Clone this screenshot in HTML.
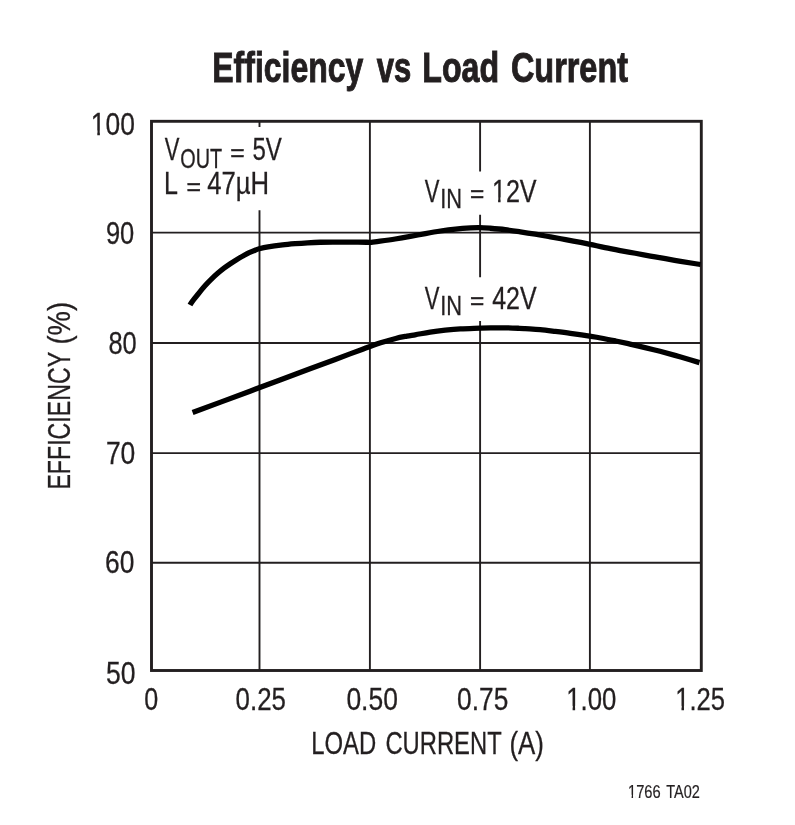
<!DOCTYPE html>
<html lang="en">
<head>
<meta charset="utf-8">
<title>Efficiency vs Load Current</title>
<style>
html,body{margin:0;padding:0;background:#fff;}
svg{display:block;}
text{font-family:"Liberation Sans", sans-serif;fill:#231f20;stroke:#231f20;stroke-linejoin:miter;}
.b{font-weight:bold;}
</style>
</head>
<body>
<svg width="795" height="825" viewBox="0 0 795 825">
<rect width="795" height="825" fill="#fff"/>
<g stroke="#231f20" stroke-width="1.90" fill="none">
<line x1="151.5" y1="232.6" x2="701.3" y2="232.6"/>
<line x1="151.5" y1="343.0" x2="701.3" y2="343.0"/>
<line x1="151.5" y1="453.1" x2="701.3" y2="453.1"/>
<line x1="151.5" y1="562.8" x2="701.3" y2="562.8"/>
<line x1="369.9" y1="121.3" x2="369.9" y2="670.5"/>
<line x1="589.9" y1="121.3" x2="589.9" y2="670.5"/>
<path d="M259.5 121.3V127M259.5 210.2V670.5"/>
<path d="M480.1 121.3V171.6M480.1 214.7V277.3M480.1 321V670.5"/>
</g>
<rect x="151.5" y="121.3" width="549.8" height="549.2" fill="none" stroke="#231f20" stroke-width="2.90"/>
<g stroke="#000" stroke-width="5.30" fill="none" stroke-linecap="butt" stroke-linejoin="round">
<path d="M190.00 305.00C192.30 300.63 195.86 297.05 198.90 293.16C200.93 290.57 203.01 288.02 205.20 285.56C207.18 283.34 209.27 281.21 211.40 279.13C213.44 277.13 215.54 275.19 217.70 273.32C219.75 271.54 221.84 269.81 224.00 268.16C226.05 266.60 228.17 265.14 230.30 263.70C232.37 262.30 234.47 260.95 236.60 259.64C238.67 258.38 240.78 257.16 242.90 255.99C244.98 254.84 247.05 253.68 249.20 252.67C251.26 251.70 253.38 250.87 255.50 250.03C256.72 249.54 257.93 249.02 259.20 248.70C262.14 247.95 265.11 247.31 268.10 246.83C272.91 246.04 277.76 245.44 282.60 244.88C286.79 244.40 291.00 244.05 295.20 243.70C299.36 243.36 303.53 243.07 307.70 242.83C311.90 242.58 316.10 242.37 320.30 242.25C324.50 242.12 328.70 242.09 332.90 242.07C337.10 242.06 341.30 242.13 345.50 242.15C349.67 242.17 353.83 242.17 358.00 242.20C362.10 242.22 366.20 242.27 370.30 242.31C373.57 241.92 376.84 241.55 380.10 241.12C385.14 240.45 390.18 239.78 395.20 239.00C400.24 238.22 405.28 237.34 410.30 236.44C415.34 235.53 420.36 234.48 425.40 233.57C430.42 232.66 435.45 231.76 440.50 231.00C445.52 230.25 450.55 229.57 455.60 229.04C460.62 228.51 465.66 228.14 470.70 227.83C473.70 227.65 476.70 227.52 479.70 227.58C483.17 227.66 486.64 227.96 490.10 228.25C495.14 228.67 500.18 229.11 505.20 229.70C510.25 230.29 515.27 231.05 520.30 231.80C525.34 232.55 530.37 233.35 535.40 234.20C540.44 235.05 545.47 236.00 550.50 236.90C555.53 237.80 560.57 238.68 565.60 239.60C570.64 240.52 575.67 241.43 580.70 242.40C583.81 243.00 586.91 243.63 590.00 244.30C595.04 245.39 600.05 246.62 605.10 247.67C610.12 248.72 615.16 249.66 620.20 250.59C625.23 251.52 630.27 252.35 635.30 253.26C640.34 254.18 645.36 255.16 650.40 256.07C655.43 256.97 660.47 257.83 665.50 258.71C670.53 259.60 675.56 260.51 680.60 261.35C685.63 262.19 690.67 262.96 695.70 263.75C697.30 264.01 698.90 264.25 700.50 264.50"/>
<path d="M192.60 412.60C211.73 405.46 230.87 398.33 250.00 391.19C270.00 383.73 290.00 376.27 310.00 368.81C323.33 363.84 336.67 358.87 350.00 353.89C354.00 352.40 357.99 350.88 362.00 349.40C364.66 348.42 367.33 347.45 370.00 346.50C373.53 345.24 377.02 343.87 380.60 342.75C385.59 341.19 390.62 339.72 395.70 338.45C399.43 337.52 403.22 336.86 407.00 336.15C409.69 335.64 412.40 335.27 415.10 334.80C420.14 333.92 425.15 332.87 430.20 332.10C435.22 331.34 440.26 330.73 445.30 330.20C450.32 329.67 455.36 329.19 460.40 328.90C466.93 328.52 473.47 328.42 480.00 328.20C483.53 328.08 487.07 327.95 490.60 327.90C495.63 327.83 500.67 327.78 505.70 327.85C510.20 327.91 514.70 328.11 519.20 328.30C521.17 328.38 523.13 328.52 525.10 328.65C530.13 328.97 535.18 329.19 540.20 329.65C545.25 330.11 550.27 330.78 555.30 331.40C560.34 332.02 565.37 332.64 570.40 333.35C576.77 334.24 583.14 335.22 589.50 336.20C593.20 336.77 596.91 337.32 600.60 338.00C605.65 338.92 610.67 339.96 615.70 341.00C620.47 341.98 625.24 343.00 630.00 344.06C635.01 345.18 640.01 346.34 645.00 347.55C650.01 348.76 655.01 350.01 660.00 351.31C665.01 352.62 670.01 353.97 675.00 355.36C680.01 356.77 685.01 358.23 690.00 359.70C693.17 360.64 696.33 361.63 699.50 362.60"/>
</g>
<text class="b" font-size="43.30" stroke-width="1.00" transform="translate(212.27 81.80) scale(0.7385 1)">Efficiency</text>
<text class="b" font-size="43.30" stroke-width="1.00" transform="translate(376.76 81.80) scale(0.7172 1)">vs</text>
<text class="b" font-size="43.30" stroke-width="1.00" transform="translate(422.26 81.80) scale(0.7438 1)">Load</text>
<text class="b" font-size="43.30" stroke-width="1.00" transform="translate(510.96 81.80) scale(0.7484 1)">Current</text>
<g transform="translate(90.78 134.60) scale(0.8250 1)"><text font-size="32.00" stroke-width="0.30">100</text><rect x="0.00" y="-4.14" width="7.90" height="6.09" fill="#fff"/><rect x="11.03" y="-4.14" width="6.16" height="6.09" fill="#fff"/></g>
<text font-size="32.00" stroke-width="0.30" transform="translate(105.92 243.60) scale(0.7977 1)">90</text>
<text font-size="32.00" stroke-width="0.30" transform="translate(108.42 353.90) scale(0.7948 1)">80</text>
<text font-size="32.00" stroke-width="0.30" transform="translate(105.88 464.40) scale(0.8275 1)">70</text>
<text font-size="32.00" stroke-width="0.30" transform="translate(105.09 572.50) scale(0.8245 1)">60</text>
<text font-size="32.00" stroke-width="0.30" transform="translate(106.09 683.70) scale(0.8300 1)">50</text>
<text font-size="32.00" stroke-width="0.30" transform="translate(144.33 710.00) scale(0.7853 1)">0</text>
<text font-size="32.00" stroke-width="0.30" transform="translate(235.61 710.00) scale(0.8078 1)">0.25</text>
<text font-size="32.00" stroke-width="0.30" transform="translate(346.40 710.00) scale(0.8275 1)">0.50</text>
<text font-size="32.00" stroke-width="0.30" transform="translate(457.10 710.00) scale(0.8228 1)">0.75</text>
<g transform="translate(566.24 710.00) scale(0.8057 1)"><text font-size="32.00" stroke-width="0.30">1.00</text><rect x="0.00" y="-4.14" width="7.90" height="6.09" fill="#fff"/><rect x="11.03" y="-4.14" width="6.16" height="6.09" fill="#fff"/></g>
<g transform="translate(675.16 710.00) scale(0.8006 1)"><text font-size="32.00" stroke-width="0.30">1.25</text><rect x="0.00" y="-4.14" width="7.90" height="6.09" fill="#fff"/><rect x="11.03" y="-4.14" width="6.16" height="6.09" fill="#fff"/></g>
<text font-size="32.00" stroke-width="0.30" transform="translate(311.15 753.50) scale(0.7455 1)">LOAD</text>
<text font-size="32.00" stroke-width="0.30" transform="translate(385.40 753.50) scale(0.7434 1)">CURRENT</text>
<text font-size="32.00" stroke-width="0.30" transform="translate(509.41 753.50) scale(0.8090 1)">(A)</text>
<g transform="translate(627.97 797.80) scale(0.8178 1)"><text font-size="18.00" stroke-width="0.20">1766</text><rect x="0.00" y="-3.04" width="4.43" height="4.94" fill="#fff"/><rect x="6.22" y="-3.04" width="3.46" height="4.94" fill="#fff"/></g>
<text font-size="18.00" stroke-width="0.20" transform="translate(666.25 797.80) scale(0.8073 1)">TA02</text>
<text font-size="32.00" stroke-width="0.30" transform="translate(164.80 160.20) scale(0.6881 1)">V</text>
<text font-size="27.20" stroke-width="0.30" transform="translate(180.28 167.80) scale(0.7289 1)">OUT</text>
<text font-size="24.00" stroke-width="0.45" transform="translate(230.17 160.70) scale(1.0281 1)">=</text>
<text font-size="32.00" stroke-width="0.30" transform="translate(252.46 160.20) scale(0.7514 1)">5V</text>
<text font-size="32.00" stroke-width="0.30" transform="translate(164.06 194.20) scale(0.7838 1)">L</text>
<text font-size="24.00" stroke-width="0.45" transform="translate(186.47 194.70) scale(1.0361 1)">=</text>
<text font-size="32.00" stroke-width="0.30" transform="translate(207.22 194.20) scale(0.8032 1)">47µH</text>
<text font-size="32.00" stroke-width="0.30" transform="translate(424.80 201.50) scale(0.6881 1)">V</text>
<text font-size="27.20" stroke-width="0.30" transform="translate(440.21 207.50) scale(0.8032 1)">IN</text>
<text font-size="24.00" stroke-width="0.45" transform="translate(470.08 202.00) scale(1.0201 1)">=</text>
<g transform="translate(491.90 201.50) scale(0.7861 1)"><text font-size="32.00" stroke-width="0.30">12V</text><rect x="0.00" y="-4.14" width="7.90" height="6.09" fill="#fff"/><rect x="11.03" y="-4.14" width="6.16" height="6.09" fill="#fff"/></g>
<text font-size="32.00" stroke-width="0.30" transform="translate(424.80 308.60) scale(0.6881 1)">V</text>
<text font-size="27.20" stroke-width="0.30" transform="translate(440.21 315.20) scale(0.8032 1)">IN</text>
<text font-size="24.00" stroke-width="0.45" transform="translate(470.08 309.10) scale(1.0201 1)">=</text>
<text font-size="32.00" stroke-width="0.30" transform="translate(492.23 308.60) scale(0.7804 1)">42V</text>
<text font-size="32.00" stroke-width="0.30" transform="translate(69.90 489.60) rotate(-90) scale(0.7246 1)">EFFICIENCY</text>
<text font-size="32.00" stroke-width="0.30" transform="translate(69.90 344.56) rotate(-90) scale(0.8570 1)">(%)</text>
</svg>
</body>
</html>
